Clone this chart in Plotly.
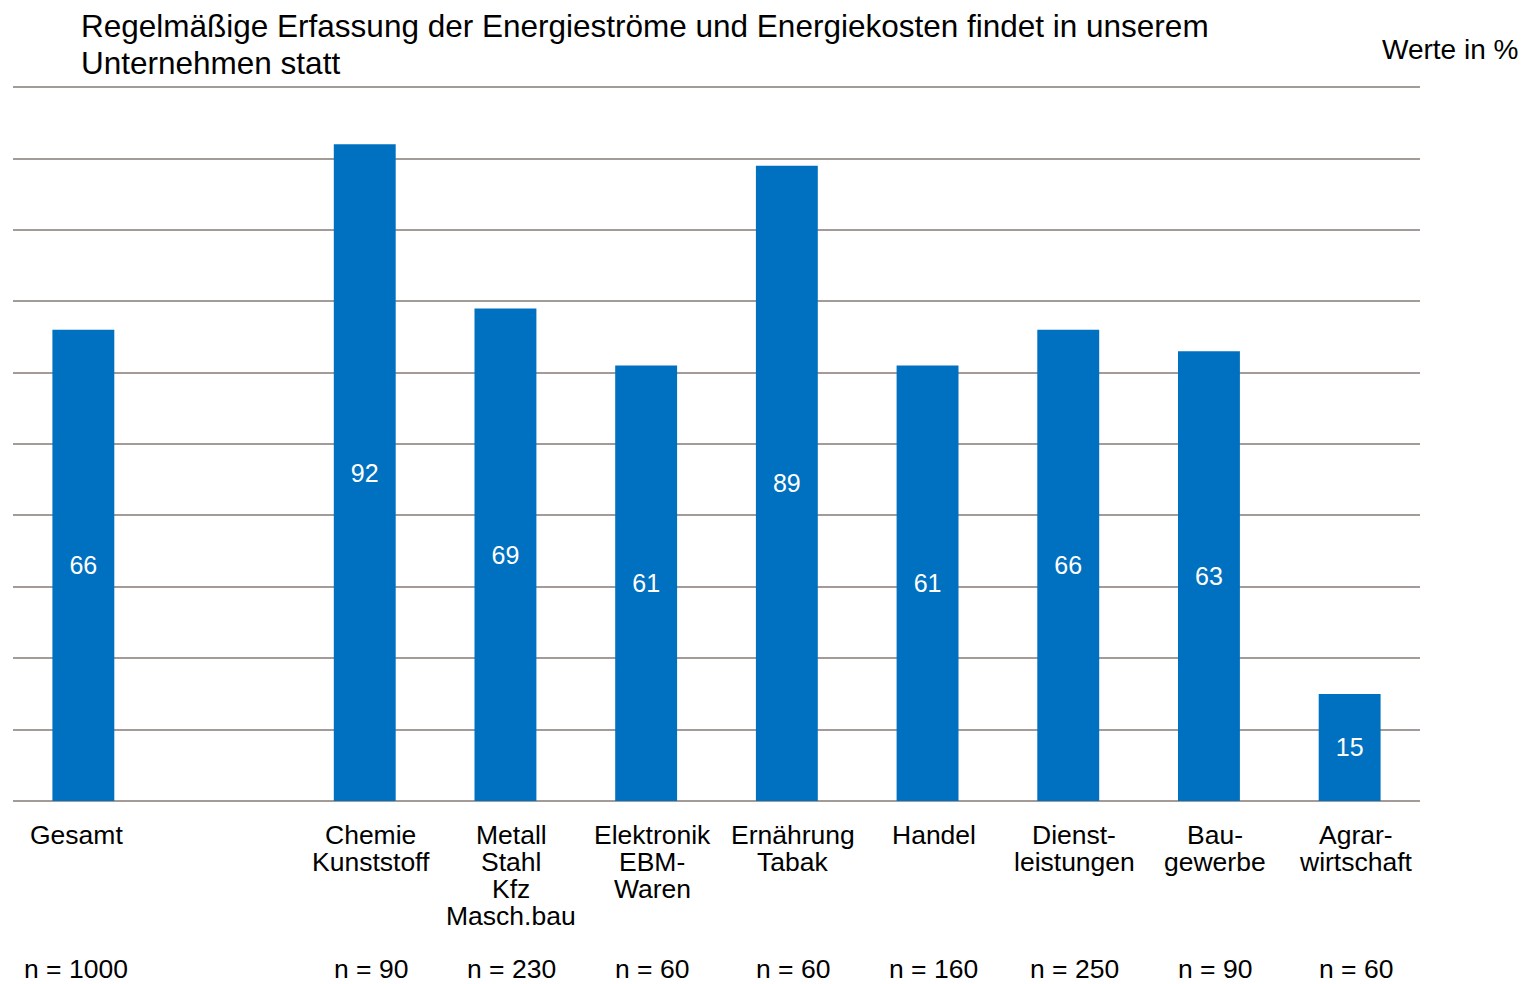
import plotly.graph_objects as go

# categories (" " is the empty slot after Gesamt)
keys = ["Gesamt", " ", "Chemie", "Metall", "Elektronik", "Ernaehrung", "Handel", "Dienst", "Bau", "Agrar"]
values = [66, None, 92, 69, 61, 89, 61, 66, 63, 15]
labels = ["Gesamt", "", "Chemie<br>Kunststoff", "Metall<br>Stahl<br>Kfz<br>Masch.bau",
          "Elektronik<br>EBM-<br>Waren", "Ernährung<br>Tabak", "Handel",
          "Dienst-<br>leistungen", "Bau-<br>gewerbe", "Agrar-<br>wirtschaft"]
n_labels = ["n = 1000", "", "n = 90", "n = 230", "n = 60", "n = 60", "n = 160", "n = 250", "n = 90", "n = 60"]

title_lines = ["Regelmäßige Erfassung der Energieströme und Energiekosten findet in unserem",
               "Unternehmen statt"]

FONT = "Liberation Sans, Arial, sans-serif"
BLUE = "#0070C0"
GRID = "#a39b98"

# page body has an 8px margin, so the figure is a bit smaller than the window
W, H = 1518, 976
L, R, T, B = 5, 106, 72, 183
plot_w = W - L - R
plot_h = H - T - B


def px_to_paper(xp, yp):
    return (xp - L) / plot_w, 1 - (yp - T) / plot_h


fig = go.Figure()
fig.add_trace(go.Bar(
    x=keys, y=values,
    marker=dict(color=BLUE, line=dict(width=0)),
    text=[str(v) if v is not None else "" for v in values],
    textposition="inside", insidetextanchor="middle", textangle=0,
    textfont=dict(family=FONT, size=25, color="white"),
    hoverinfo="skip",
))

annotations = []
for i, k in enumerate(keys):
    if not labels[i]:
        continue
    shift = -7 if i == 0 else 6
    for j, line in enumerate(labels[i].split("<br>")):
        annotations.append(dict(
            x=k, xref="x", y=0, yref="y", yanchor="middle", xanchor="center",
            yshift=-34 - 27 * j, xshift=shift, showarrow=False, text=line,
            font=dict(family=FONT, size=26.5, color="black")))
    annotations.append(dict(
        x=k, xref="x", y=0, yref="y", yanchor="middle", xanchor="center",
        yshift=-168, xshift=shift, showarrow=False, text=n_labels[i],
        font=dict(family=FONT, size=26.5, color="black")))

for j, line in enumerate(title_lines):
    tx, ty = px_to_paper(71, 18 + 37 * j)
    annotations.append(dict(
        x=tx, xref="paper", y=ty, yref="paper", showarrow=False, text=line,
        xanchor="left", yanchor="middle",
        font=dict(family=FONT, size=31.5, color="black")))

wx, wy = px_to_paper(1512, 41)
annotations.append(dict(
    x=wx, xref="paper", y=wy, yref="paper", showarrow=False,
    text="Werte in %", xanchor="right", yanchor="middle",
    font=dict(family=FONT, size=28, color="black")))

fig.update_layout(
    width=W, height=H,
    margin=dict(l=L, r=R, t=T, b=B),
    paper_bgcolor="white", plot_bgcolor="white",
    bargap=0.56,
    showlegend=False,
    xaxis=dict(type="category", categoryorder="array", categoryarray=keys,
               showticklabels=False, showgrid=False, zeroline=False, showline=False,
               range=[-0.5, 9.5]),
    yaxis=dict(range=[0, 101], tickvals=list(range(0, 101, 10)), showticklabels=False,
               showgrid=True, gridcolor=GRID, gridwidth=2,
               zeroline=True, zerolinecolor=GRID, zerolinewidth=2, showline=False),
    annotations=annotations,
)

fig.write_html("out.html")
